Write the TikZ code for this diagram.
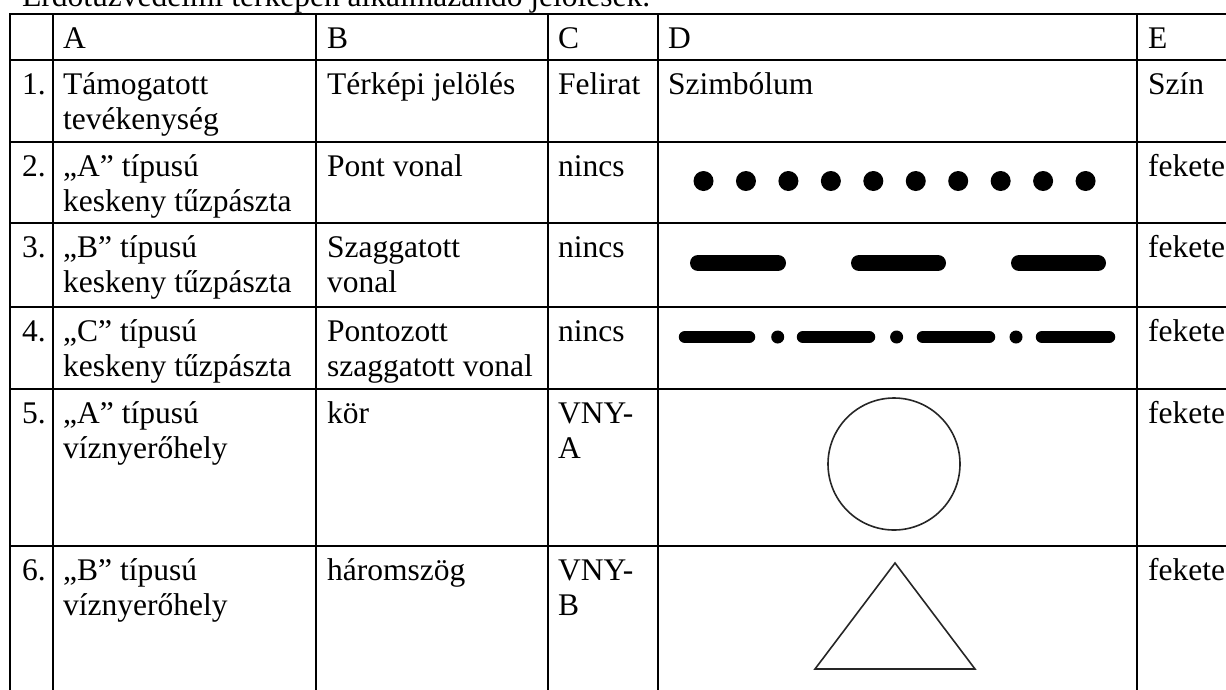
\documentclass[tikz,border=0pt]{standalone}
\usepackage{fontspec}
\setmainfont{Liberation Serif}
\begin{document}
\begin{tikzpicture}[x=1pt,y=-1pt,
  gridline/.style={line width=2.6pt, line cap=rect},
  txt/.style={anchor=base west, inner sep=0pt, font=\fontsize{31.5}{35}\selectfont},
  symline/.style={line width=1.6pt, draw=black!85},
  dotmark/.style={fill=black},
  bar/.style={line width=16pt, line cap=round},
  thinbar/.style={line width=12.5pt, line cap=round}]
\useasboundingbox (0,0) rectangle (1226,689);
\clip (0,0) rectangle (1226,689);
% title (cut off at top)
\node[txt] (title) at (22,6) {Erdőtűzvédelmi térképen alkalmazandó jelölések.};
% grid
\foreach \yy in {14,60,142,223,307,389,546}
  \draw[gridline] (10,\yy) -- (1240,\yy);
\foreach \xx in {10,53,316,548,658,1137}
  \draw[gridline] (\xx,14) -- (\xx,700);
% header row
\node[txt] (hA) at (63,48) {A};
\node[txt] (hB) at (327,48) {B};
\node[txt] (hC) at (558,48) {C};
\node[txt] (hD) at (668,48) {D};
\node[txt] (hE) at (1148,48) {E};
% row 1
\node[txt] (n1) at (22,94) {1.};
\node[txt] (a1) at (63,94) {Támogatott};
\node[txt] (a1b) at (63,129) {tevékenység};
\node[txt] (b1) at (327,94) {Térképi jelölés};
\node[txt] (c1) at (558,94) {Felirat};
\node[txt] (d1) at (668,94) {Szimbólum};
\node[txt] (e1) at (1148,94) {Szín};
% row 2
\node[txt] (n2) at (22,176) {2.};
\node[txt] (a2) at (63,176) {„A” típusú};
\node[txt] (a2b) at (63,211) {keskeny tűzpászta};
\node[txt] (b2) at (327,176) {Pont vonal};
\node[txt] (c2) at (558,176) {nincs};
\node[txt] (e2) at (1148,176) {fekete};
% row 3
\node[txt] (n3) at (22,257) {3.};
\node[txt] (a3) at (63,257) {„B” típusú};
\node[txt] (a3b) at (63,292) {keskeny tűzpászta};
\node[txt] (b3) at (327,257) {Szaggatott};
\node[txt] (b3b) at (327,292) {vonal};
\node[txt] (c3) at (558,257) {nincs};
\node[txt] (e3) at (1148,257) {fekete};
% row 4
\node[txt] (n4) at (22,341) {4.};
\node[txt] (a4) at (63,341) {„C” típusú};
\node[txt] (a4b) at (63,376) {keskeny tűzpászta};
\node[txt] (b4) at (327,341) {Pontozott};
\node[txt] (b4b) at (327,376) {szaggatott vonal};
\node[txt] (c4) at (558,341) {nincs};
\node[txt] (e4) at (1148,341) {fekete};
% row 5
\node[txt] (n5) at (22,423) {5.};
\node[txt] (a5) at (63,423) {„A” típusú};
\node[txt] (a5b) at (63,458) {víznyerőhely};
\node[txt] (b5) at (327,423) {kör};
\node[txt] (c5) at (558,423) {VNY-};
\node[txt] (c5b) at (558,458) {A};
\node[txt] (e5) at (1148,423) {fekete};
% row 6
\node[txt] (n6) at (22,580) {6.};
\node[txt] (a6) at (63,580) {„B” típusú};
\node[txt] (a6b) at (63,615) {víznyerőhely};
\node[txt] (b6) at (327,580) {háromszög};
\node[txt] (c6) at (558,580) {VNY-};
\node[txt] (c6b) at (558,615) {B};
\node[txt] (e6) at (1148,580) {fekete};
% symbols
\foreach \i in {0,...,9}
  \fill[dotmark] (703.5+42.45*\i,181) circle[radius=10];
\draw[bar] (698,263) -- (778,263);
\draw[bar] (859,263) -- (938,263);
\draw[bar] (1019,263) -- (1098,263);
\draw[thinbar] (685,337) -- (749,337);
\draw[thinbar] (803,337) -- (869,337);
\draw[thinbar] (923,337) -- (989,337);
\draw[thinbar] (1042,337) -- (1109,337);
\fill[dotmark] (777.7,337) circle[radius=6.5];
\fill[dotmark] (896.6,337) circle[radius=6.5];
\fill[dotmark] (1016,337) circle[radius=6.5];
\draw[symline] (894,464) circle[radius=66];
\draw[symline, line join=miter] (895,563) -- (815,669) -- (975,669) -- cycle;
\end{tikzpicture}
\end{document}
